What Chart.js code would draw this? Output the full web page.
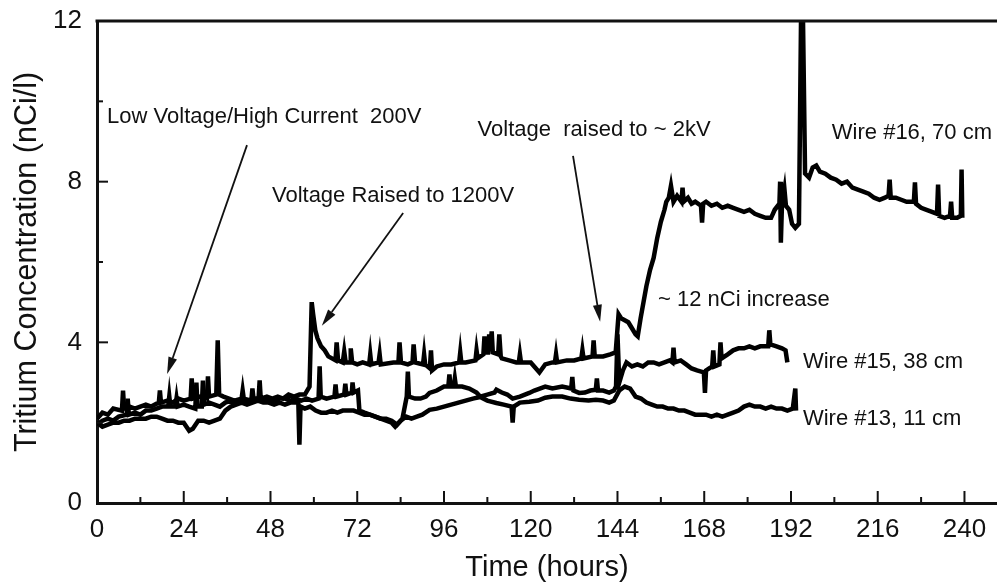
<!DOCTYPE html>
<html>
<head>
<meta charset="utf-8">
<title>Tritium Concentration</title>
<script src="https://cdn.jsdelivr.net/npm/chart.js@4.4.1/dist/chart.umd.min.js"></script>
<style>
  html, body { margin: 0; padding: 0; background: #fff; }
  #wrap { width: 997px; height: 587px; }
</style>
</head>
<body>
<div id="wrap"><canvas id="myChart" width="997" height="587"></canvas></div>
<script>
// values: time in hours, tritium in nCi/l
var hours16 = [
  0,1.5,3,4.5,6.9,7.2,7.5,9,10.5,12,
  13.5,15,17.1,17.4,17.7,19.5,21,22.5,24,25.9,
  26.2,26.5,28.5,30.4,30.7,31.0,33,33.4,33.8,35,
  36.5,38,40.0,40.3,40.6,42.7,43,43.3,44.7,45,45.3,
  47,48.5,50,51.5,53,54.5,56,57.5,58.8,59.4,
  59.8,60.4,61,62,63,64,65,66,66.3,66.7,
  68,68.4,68.8,70,70.2,70.6,72,73.5,75.3,75.6,
  75.9,77.9,78.2,78.5,82,83.4,83.7,84.1,86,87.3,
  87.6,88,90.2,90.5,90.8,92.1,92.4,92.7,94,96,98,
  100.2,100.5,100.8,102,104.7,105,105.3,106.9,107.2,107.5,
  108.2,108.5,108.8,109.2,109.5,111.0,111.3,111.7,112,114,116,116.7,117,117.3,
  118,120,122.4,124,126,126.7,127,127.3,130,132,134,
  134.3,134.6,137.1,137.4,137.7,140,142,143.5,144.3,145,
  146,147,148,149,149.6,150.4,151.2,152,153,154,
  155,156,157,157.5,158.2,158.8,159.5,160.5,161.7,162,162.3,
  163.5,164.5,165.5,167.1,167.4,167.7,168.5,170,171.5,
  173,174.5,176,177.5,179,180.5,182,183.5,185,186.5,
  187.5,188.8,189,189.2,189.5,190.2,190.6,191.5,192.3,193.2,
  194.2,194.8,195.3,195.9,197,198,199,200,201.5,203,
  204.5,206,207.5,209,210.5,212,213.5,215,216.5,218,
  219,219.3,219.6,221,222.5,224,226,226.3,226.6,228,
  229.5,231,232.4,232.7,233,234.5,236,236.3,236.6,238,
  239,239.2,239.4
];
var wire16 = [
  2.1,2.25,2.2,2.35,2.3,2.8,2.35,2.4,2.35,2.4,
  2.45,2.4,2.5,2.8,2.5,2.55,2.5,2.6,2.55,2.6,
  3.1,2.6,2.65,2.6,3.15,2.65,2.7,4.05,2.7,2.65,
  2.6,2.55,2.6,2.8,2.6,2.55,2.85,2.6,2.6,3.05,2.6,
  2.65,2.6,2.65,2.6,2.7,2.65,2.7,2.7,2.9,5.0,
  4.7,4.3,4.1,3.9,3.8,3.65,3.6,3.55,4.0,3.55,
  3.5,3.77,3.5,3.5,3.85,3.5,3.45,3.5,3.45,3.7,
  3.45,3.5,3.7,3.45,3.5,3.5,4.0,3.5,3.45,3.5,
  3.95,3.5,3.45,3.7,3.45,3.35,3.8,3.3,3.4,3.45,3.45,
  3.5,3.75,3.5,3.5,3.55,3.8,3.6,3.7,4.15,3.75,
  3.75,4.2,3.8,4.27,3.75,3.7,4.2,3.65,3.6,3.55,3.5,3.5,3.7,3.5,
  3.5,3.5,3.25,3.45,3.5,3.5,3.7,3.5,3.55,3.55,3.6,
  3.8,3.6,3.65,4.05,3.65,3.65,3.7,3.75,4.7,4.6,
  4.55,4.5,4.35,4.2,4.15,4.6,5.0,5.4,5.8,6.1,
  6.6,7.0,7.3,7.5,7.6,7.9,7.5,7.65,7.5,7.85,7.5,
  7.6,7.45,7.5,7.4,6.98,7.45,7.5,7.4,7.45,
  7.35,7.4,7.35,7.3,7.25,7.3,7.2,7.15,7.1,7.1,
  7.3,7.45,8.0,6.48,7.4,7.8,7.4,7.3,6.95,6.85,
  6.95,12.2,12.2,8.2,8.1,8.35,8.4,8.25,8.2,8.1,
  8.05,7.95,8.0,7.85,7.8,7.75,7.7,7.6,7.55,7.6,
  7.65,8.05,7.6,7.6,7.55,7.5,7.5,7.98,7.45,7.35,
  7.3,7.25,7.2,7.93,7.15,7.1,7.15,7.5,7.1,7.1,
  7.15,8.3,7.1
];

var hours15 = [
  0,1.5,3,4.5,6,8.2,8.5,8.8,10.5,12,
  13.5,15,16.5,18,19.7,20,20.3,21.7,22,22.3,24,
  25.5,27.2,27.5,27.8,29.0,29.3,29.6,31,32.5,34,35.5,
  37,38.5,40,41.5,43,44.5,46,47.5,49,50.5,
  52,53.5,55,56.5,58,59.5,61.3,61.6,61.9,63.5,
  65.7,66,66.3,68.4,68.7,69,70.5,70.7,71,72.2,
  72.6,74,75.5,77,78.5,80,81.5,83,84.5,85.7,
  86,86.3,88,89.5,91,92,94,96,97.2,97.5,97.8,
  98.7,99,99.3,101,103,105,106,108,110,110.5,112,
  113.5,115,117,119.6,121,122.5,124,126,128.7,131.2,
  131.5,131.8,133.4,135,136.5,138,138.3,138.6,140,141.7,
  143,143.6,144,144.5,145.5,146.5,148,149.5,151,152.5,
  154,155.5,157,158.5,159.2,159.5,159.8,161.5,163,164.5,166,
  167.9,168.2,168.5,170.2,170.5,170.8,172.2,172.5,172.8,174.5,
  176,177.5,179,180.5,182,183.5,185.7,186,186.3,188,
  189.5,190.5,191
];
var wire15 = [
  1.95,2.05,2.1,2.05,2.15,2.2,2.6,2.2,2.25,2.2,
  2.3,2.3,2.35,2.4,2.4,2.65,2.4,2.4,2.6,2.4,2.45,
  2.4,2.35,3.0,2.4,2.4,3.05,2.45,2.5,2.45,2.4,2.5,
  2.55,2.5,2.55,2.5,2.55,2.6,2.55,2.6,2.55,2.6,
  2.6,2.55,2.6,2.55,2.6,2.55,2.6,3.4,2.65,2.6,
  2.65,2.95,2.65,2.7,2.97,2.7,2.75,3.0,2.75,2.8,
  2.3,2.25,2.2,2.15,2.1,2.1,2.05,1.95,2.1,2.65,
  3.27,2.65,2.6,2.6,2.65,2.74,2.8,2.9,2.9,3.2,2.9,
  2.9,3.1,2.9,2.9,2.85,2.75,2.65,2.7,2.75,2.82,2.75,
  2.7,2.6,2.65,2.74,2.8,2.85,2.9,2.85,2.9,2.85,
  3.14,2.8,2.74,2.75,2.8,2.82,3.1,2.8,2.8,2.75,
  2.8,2.9,4.2,3.0,3.3,3.5,3.4,3.45,3.4,3.5,
  3.5,3.45,3.5,3.55,3.5,3.87,3.5,3.55,3.45,3.35,3.3,
  3.25,2.74,3.3,3.4,3.8,3.4,3.45,4.0,3.6,3.7,
  3.8,3.85,3.85,3.9,3.85,3.9,3.9,4.3,3.95,3.9,
  3.85,3.8,3.5
];

var hours13 = [
  0,1.5,3,4.5,6,7.5,9,10.5,12,13.5,
  15,16.5,18,19.5,21,22.5,24,25.5,26.5,28,
  29.5,31,32.5,34,35.5,37,38.5,40,41.5,43,
  44.5,46,47.5,49,50.5,52,53.5,55.7,56,56.3,
  57.5,59,60.5,62,63.5,65,66.5,68,69.5,71,
  72.5,74,75.5,77,78.5,80,81.5,82.5,84,85.5,
  87,88.5,90,92,94,96,98,100,102,104,
  106,108,110.5,112.5,114.7,115,115.3,117,119.6,122,
  124,126,128.7,131,133.4,136,138,140,141.7,143,
  144.5,146,147.5,149,150.5,152,153.5,155,156.5,158,
  159.5,161,162.5,164,165.5,167,168.5,170,171.5,173,
  174.5,176,177.5,179,180.5,182,183.5,185,186.5,188,
  189.5,191,192.5,193.2,193.4
];
var wire13 = [
  2.0,1.9,1.95,2.0,2.0,2.05,2.05,2.1,2.1,2.1,
  2.15,2.15,2.1,2.05,2.05,2.0,2.0,1.8,1.85,2.05,
  2.05,2.0,2.05,2.1,2.3,2.4,2.45,2.5,2.45,2.5,
  2.55,2.5,2.5,2.45,2.5,2.45,2.5,2.5,1.45,2.4,
  2.35,2.4,2.3,2.25,2.25,2.3,2.25,2.3,2.3,2.3,
  2.25,2.2,2.2,2.15,2.1,2.05,2.0,1.9,2.05,2.15,
  2.1,2.15,2.2,2.32,2.35,2.4,2.45,2.5,2.55,2.6,
  2.64,2.55,2.49,2.45,2.4,2.0,2.4,2.5,2.52,2.55,
  2.62,2.65,2.65,2.6,2.57,2.55,2.57,2.55,2.5,2.55,
  2.8,2.9,2.85,2.65,2.6,2.5,2.45,2.4,2.4,2.35,
  2.35,2.3,2.3,2.25,2.2,2.2,2.2,2.15,2.2,2.15,
  2.2,2.25,2.3,2.4,2.45,2.4,2.4,2.35,2.4,2.35,
  2.35,2.3,2.35,2.85,2.3
];

var xTicks = [0, 24, 48, 72, 96, 120, 144, 168, 192, 216, 240];
var yTicks = [0, 4, 8, 12];

// annotations, placed in data units (hours, nCi/l)
var notes = [
  { text: 'Low Voltage/High Current  200V', h: 2.8, v: 9.61 },
  { text: 'Voltage Raised to 1200V', h: 48.4, v: 7.64 },
  { text: 'Voltage  raised to ~ 2kV', h: 105.3, v: 9.29 },
  { text: 'Wire #16, 70 cm', h: 203.3, v: 9.21 },
  { text: '~ 12 nCi increase', h: 155.2, v: 5.05 },
  { text: 'Wire #15, 38 cm', h: 195.3, v: 3.51 },
  { text: 'Wire #13, 11 cm', h: 195.3, v: 2.09 }
];
var arrows = [
  { from: [41.5, 8.91], to: [19.4, 3.21] },
  { from: [84.7, 7.22], to: [62.2, 4.41] },
  { from: [131.7, 8.64], to: [139.2, 4.51] }
];

var ink = '#111';
var family = '"Liberation Sans", Arial, Helvetica, sans-serif';

function toPoints(xs, ys) {
  return xs.map(function (h, i) { return { x: h, y: ys[i] }; });
}

// top frame line, inward tick marks, text notes and arrows
var framePlugin = {
  id: 'frame',
  afterDatasetsDraw: function (chart) {
    var ctx = chart.ctx;
    var area = chart.chartArea;
    var xs = chart.scales.x;
    var ys = chart.scales.y;
    ctx.save();
    ctx.strokeStyle = ink;
    ctx.fillStyle = ink;

    ctx.lineWidth = 3;
    ctx.beginPath();
    ctx.moveTo(area.left - 1.5, area.top);
    ctx.lineTo(area.right, area.top);
    ctx.stroke();

    ctx.lineWidth = 2;
    xTicks.forEach(function (t, i) {
      var px = xs.getPixelForValue(t);
      ctx.beginPath();
      ctx.moveTo(px, area.bottom);
      ctx.lineTo(px, area.bottom - 12);
      ctx.stroke();
      if (i < xTicks.length - 1) {
        var mx = xs.getPixelForValue((t + xTicks[i + 1]) / 2);
        ctx.beginPath();
        ctx.moveTo(mx, area.bottom);
        ctx.lineTo(mx, area.bottom - 6);
        ctx.stroke();
      }
    });
    yTicks.forEach(function (t, i) {
      var py = ys.getPixelForValue(t);
      ctx.beginPath();
      ctx.moveTo(area.left, py);
      ctx.lineTo(area.left + 11, py);
      ctx.stroke();
      if (i < yTicks.length - 1) {
        var my = ys.getPixelForValue((t + yTicks[i + 1]) / 2);
        ctx.beginPath();
        ctx.moveTo(area.left, my);
        ctx.lineTo(area.left + 6, my);
        ctx.stroke();
      }
    });

    ctx.font = '22px ' + family;
    ctx.textAlign = 'left';
    ctx.textBaseline = 'middle';
    notes.forEach(function (n) {
      ctx.fillText(n.text, xs.getPixelForValue(n.h), ys.getPixelForValue(n.v));
    });

    ctx.lineWidth = 1.8;
    arrows.forEach(function (a) {
      var x0 = xs.getPixelForValue(a.from[0]), y0 = ys.getPixelForValue(a.from[1]);
      var x1 = xs.getPixelForValue(a.to[0]), y1 = ys.getPixelForValue(a.to[1]);
      var ang = Math.atan2(y1 - y0, x1 - x0);
      var len = 17, half = 4.5;
      var bx = x1 - len * Math.cos(ang), by = y1 - len * Math.sin(ang);
      ctx.beginPath();
      ctx.moveTo(x0, y0);
      ctx.lineTo(bx, by);
      ctx.stroke();
      ctx.beginPath();
      ctx.moveTo(x1, y1);
      ctx.lineTo(bx + half * Math.sin(ang), by - half * Math.cos(ang));
      ctx.lineTo(bx - half * Math.sin(ang), by + half * Math.cos(ang));
      ctx.closePath();
      ctx.fill();
    });
    ctx.restore();
  }
};

var lineStyle = { borderColor: '#000', backgroundColor: '#000', borderWidth: 4.5, pointRadius: 0, tension: 0, fill: false };

var ctx = document.getElementById('myChart').getContext('2d');
var myChart = new Chart(ctx, {
  type: 'line',
  data: {
    datasets: [
      Object.assign({ label: 'Wire #16, 70 cm', data: toPoints(hours16, wire16) }, lineStyle),
      Object.assign({ label: 'Wire #15, 38 cm', data: toPoints(hours15, wire15) }, lineStyle),
      Object.assign({ label: 'Wire #13, 11 cm', data: toPoints(hours13, wire13) }, lineStyle)
    ]
  },
  options: {
    responsive: false,
    animation: false,
    devicePixelRatio: 1,
    layout: { padding: { top: 21, right: 0, bottom: 0, left: 0 } },
    plugins: {
      legend: { display: false },
      tooltip: { enabled: false }
    },
    scales: {
      x: {
        type: 'linear',
        min: 0,
        max: 249,
        grid: { display: false, drawTicks: false },
        border: { display: true, color: ink, width: 3 },
        ticks: { color: ink, font: { family: family, size: 26 }, padding: 11, maxRotation: 0, autoSkip: false },
        afterBuildTicks: function (s) { s.ticks = xTicks.map(function (v) { return { value: v }; }); },
        afterFit: function (s) { s.height = 84; s.paddingLeft = 0; s.paddingRight = 0; },
        title: { display: true, text: 'Time (hours)', color: ink, font: { family: family, size: 29 }, padding: { top: 0, bottom: 2 } }
      },
      y: {
        min: 0,
        max: 12,
        grid: { display: false, drawTicks: false },
        border: { display: true, color: ink, width: 3 },
        ticks: { color: ink, font: { family: family, size: 26 }, padding: 15 },
        afterBuildTicks: function (s) { s.ticks = yTicks.map(function (v) { return { value: v }; }); },
        afterFit: function (s) { s.width = 97; s.paddingTop = 0; s.paddingBottom = 0; },
        title: { display: true, text: 'Tritium Concentration (nCi/l)', color: ink, font: { family: family, size: 30.5 }, padding: { top: 9, bottom: 0 } }
      }
    }
  },
  plugins: [framePlugin]
});
</script>
</body>
</html>
